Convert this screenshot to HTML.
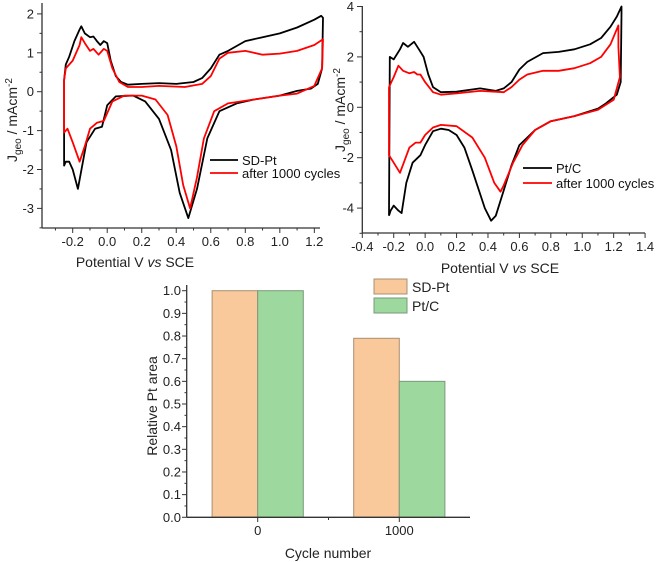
<!DOCTYPE html>
<html><head><meta charset="utf-8"><style>
body{margin:0;background:#fff;}
svg{display:block;font-family:"Liberation Sans",Arial,sans-serif;}
</style></head><body>
<svg id="fig" width="656" height="562" viewBox="0 0 656 562" xmlns="http://www.w3.org/2000/svg"></svg>
<script>
// ---------- Data: chart 1 (SD-Pt) ----------
const sdV = [-0.25,-0.24,-0.22,-0.19,-0.16,-0.15,-0.13,-0.1,-0.08,-0.06,-0.04,-0.02,0.0,0.02,0.05,0.08,0.12,0.2,0.3,0.4,0.5,0.55,0.6,0.65,0.7,0.8,0.9,1.0,1.1,1.2,1.24,1.25,
  1.245,1.22,1.18,1.1,1.0,0.85,0.75,0.65,0.58,0.52,0.47,0.42,0.37,0.3,0.22,0.15,0.05,0.0,-0.03,-0.07,-0.12,-0.17,-0.2,-0.22,-0.24,-0.25,-0.25];
const sdJ = [0.3,0.7,0.9,1.3,1.6,1.68,1.5,1.4,1.42,1.3,1.2,1.3,1.25,0.8,0.4,0.25,0.18,0.2,0.22,0.2,0.25,0.35,0.6,0.95,1.05,1.3,1.4,1.5,1.65,1.85,1.95,1.9,
  0.6,0.2,0.08,0.02,-0.1,-0.2,-0.3,-0.5,-1.2,-2.5,-3.25,-2.6,-1.5,-0.7,-0.25,-0.1,-0.12,-0.35,-0.9,-0.95,-1.3,-2.5,-2.0,-1.8,-1.8,-1.9,0.3];
const sdAgedV = [-0.25,-0.24,-0.2,-0.16,-0.15,-0.13,-0.1,-0.08,-0.05,-0.02,0.0,0.03,0.07,0.12,0.2,0.3,0.45,0.55,0.6,0.65,0.7,0.8,0.85,0.9,1.0,1.1,1.2,1.25,
  1.245,1.2,1.1,1.0,0.85,0.7,0.62,0.56,0.52,0.48,0.44,0.4,0.35,0.28,0.2,0.1,0.03,-0.02,-0.06,-0.1,-0.13,-0.16,-0.2,-0.23,-0.25,-0.25];
const sdAgedJ = [0.3,0.6,0.8,1.2,1.4,1.25,1.05,1.1,0.95,1.1,1.05,0.6,0.25,0.12,0.12,0.15,0.12,0.2,0.4,0.85,1.0,1.05,1.0,0.95,0.98,1.05,1.2,1.35,
  0.6,0.15,-0.05,-0.1,-0.2,-0.3,-0.5,-1.2,-2.2,-3.0,-2.4,-1.4,-0.6,-0.2,-0.1,-0.1,-0.25,-0.75,-0.8,-0.95,-1.4,-1.8,-1.3,-0.95,-1.05,0.3];
const c1YTicks = [-3,-2,-1,0,1,2];
const c1XTicks = [-0.2,0.0,0.2,0.4,0.6,0.8,1.0,1.2];
// ---------- Data: chart 2 (Pt/C) ----------
const ptV = [-0.23,-0.225,-0.2,-0.16,-0.14,-0.11,-0.09,-0.07,-0.04,-0.01,0.02,0.05,0.1,0.2,0.35,0.45,0.5,0.55,0.6,0.65,0.75,0.85,0.95,1.05,1.12,1.18,1.22,1.25,
  1.25,1.245,1.22,1.15,1.1,0.95,0.8,0.7,0.6,0.55,0.5,0.45,0.42,0.38,0.3,0.25,0.2,0.15,0.1,0.05,0.0,-0.03,-0.08,-0.12,-0.15,-0.17,-0.2,-0.22,-0.23,-0.23];
const ptJ = [-4.3,2.0,1.9,2.3,2.55,2.4,2.5,2.6,2.3,2.0,1.3,0.8,0.6,0.62,0.75,0.65,0.75,1.0,1.5,1.8,2.15,2.2,2.3,2.5,2.75,3.2,3.6,4.0,
  3.7,1.0,0.5,0.15,-0.05,-0.35,-0.55,-0.9,-1.5,-2.3,-3.3,-4.3,-4.5,-4.0,-2.5,-1.6,-1.1,-0.9,-0.85,-0.95,-1.5,-1.9,-2.2,-3.0,-4.2,-4.1,-3.9,-4.1,-4.3,-4.3];
const ptAgedV = [-0.23,-0.2,-0.17,-0.14,-0.1,-0.07,-0.05,-0.03,0.0,0.05,0.1,0.2,0.35,0.5,0.55,0.6,0.65,0.75,0.85,0.95,1.05,1.12,1.18,1.22,1.23,
  1.23,1.24,1.2,1.1,0.95,0.8,0.7,0.62,0.56,0.5,0.48,0.44,0.38,0.3,0.2,0.1,0.05,0.0,-0.03,-0.06,-0.1,-0.16,-0.2,-0.23,-0.23];
const ptAgedJ = [0.8,1.2,1.65,1.45,1.35,1.4,1.3,1.3,1.0,0.6,0.5,0.55,0.65,0.6,0.8,1.1,1.3,1.45,1.45,1.55,1.75,2.0,2.5,3.1,3.25,
  2.4,1.2,0.3,-0.1,-0.35,-0.55,-0.9,-1.5,-2.2,-3.1,-3.35,-3.0,-2.0,-1.2,-0.75,-0.7,-0.8,-1.1,-1.4,-1.4,-1.6,-2.6,-2.2,-1.9,0.8];
const c2YTicks = [-4,-2,0,2,4];
const c2XTicks = [-0.4,-0.2,0.0,0.2,0.4,0.6,0.8,1.0,1.2,1.4];
// ---------- Data: bar chart ----------
const barCategories = ["0","1000"];
const barSeriesNames = ["SD-Pt","Pt/C"];
const sdPtArea = [1.0,0.79];
const ptCArea = [1.0,0.6];
const barYTicks = [0.0,0.1,0.2,0.3,0.4,0.5,0.6,0.7,0.8,0.9,1.0];

const NS="http://www.w3.org/2000/svg";
const svg=document.getElementById('fig');
function mk(tag,attrs,parent,text){const e=document.createElementNS(NS,tag);for(const k in attrs)e.setAttribute(k,attrs[k]);if(text!==undefined)e.textContent=text;(parent||svg).appendChild(e);return e;}
function fmt(v,d){let s=v.toFixed(d);if(s.startsWith('-0')&&parseFloat(s)===0)s=s.slice(1);return s;}

// ---------- Chart 1 ----------
const x1=v=>72.7+(v+0.2)*172.6, y1=v=>91.7-38.9*v;
const g1=mk('g',{});


mk('line',{x1:42,y1:3,x2:42,y2:228,stroke:'#333','stroke-width':1.3},g1);
mk('line',{x1:42,y1:228,x2:320,y2:228,stroke:'#333','stroke-width':1.3},g1);
for(let v=-3.5;v<=2.01;v+=0.5){mk('line',{x1:42,x2:Math.abs(v-Math.round(v))<0.01?37:39.5,y1:y1(v),y2:y1(v),stroke:'#333','stroke-width':1},g1);}
c1YTicks.forEach(v=>{const t=mk('text',{x:34,y:y1(v)+4.5,'text-anchor':'end','font-size':13,fill:'#222'},g1,String(v));});
for(let v=-0.3;v<=1.26;v+=0.1){const major=Math.abs(v*5-Math.round(v*5))<0.01;mk('line',{x1:x1(v),x2:x1(v),y1:228,y2:major?233:230.5,stroke:'#333','stroke-width':1},g1);}
c1XTicks.forEach(v=>{const t=mk('text',{x:x1(v),y:246,'text-anchor':'middle','font-size':13,fill:'#222'},g1,fmt(v,1));});
function poly(V,J,fx,fy,color,g,name){const p=V.map((v,i)=>fx(v).toFixed(1)+','+fy(J[i]).toFixed(1)).join(' ');const e=mk('polyline',{points:p,fill:'none',stroke:color,'stroke-width':1.8,'stroke-linejoin':'round'},g);}
poly(sdV,sdJ,x1,y1,'#000',g1,'sd-pt-curve');
poly(sdAgedV,sdAgedJ,x1,y1,'#f00',g1,'sd-pt-aged-curve');
let t;
mk('line',{x1:210,x2:238,y1:160,y2:160,stroke:'#000','stroke-width':1.8},g1);
t=mk('text',{x:242,y:165,'font-size':13,fill:'#111'},g1,'SD-Pt');
mk('line',{x1:210,x2:238,y1:173,y2:173,stroke:'#f00','stroke-width':1.8},g1);
t=mk('text',{x:242,y:178,'font-size':13,fill:'#111'},g1,'after 1000 cycles');
t=mk('text',{x:135,y:267,'text-anchor':'middle','font-size':14,fill:'#222'},g1);
t.innerHTML='Potential V <tspan font-style="italic">vs</tspan> SCE';
t=mk('text',{transform:'translate(17,120) rotate(-90)','text-anchor':'middle','font-size':14,fill:'#222'},g1);
t.innerHTML='J<tspan font-size="10" dy="4">geo</tspan><tspan dy="-4"> / mAcm</tspan><tspan font-size="10" dy="-5">-2</tspan>';

// ---------- Chart 2 ----------
const x2=v=>362.3+(v+0.4)*157.1, y2=v=>107.3-25.2*v;
const g2=mk('g',{});


mk('line',{x1:362.3,y1:6,x2:362.3,y2:233,stroke:'#333','stroke-width':1.3},g2);
mk('line',{x1:362.3,y1:233,x2:645,y2:233,stroke:'#333','stroke-width':1.3},g2);
for(let v=-5;v<=4.01;v+=1){const major=Math.abs(v/2-Math.round(v/2))<0.01;mk('line',{x1:362.3,x2:major?357:359.5,y1:y2(v),y2:y2(v),stroke:'#333','stroke-width':1},g2);}
c2YTicks.forEach(v=>{const e=mk('text',{x:354,y:y2(v)+4.5,'text-anchor':'end','font-size':13,fill:'#222'},g2,String(v));});
for(let v=-0.4;v<=1.41;v+=0.1){const major=Math.abs(v*5-Math.round(v*5))<0.01;mk('line',{x1:x2(v),x2:x2(v),y1:233,y2:major?238:235.5,stroke:'#333','stroke-width':1},g2);}
c2XTicks.forEach(v=>{const e=mk('text',{x:x2(v),y:251,'text-anchor':'middle','font-size':13,fill:'#222'},g2,fmt(v,1));});
poly(ptV,ptJ,x2,y2,'#000',g2,'pt-c-curve');
poly(ptAgedV,ptAgedJ,x2,y2,'#f00',g2,'pt-c-aged-curve');
mk('line',{x1:523,x2:552,y1:168,y2:168,stroke:'#000','stroke-width':1.8},g2);
t=mk('text',{x:556,y:173,'font-size':13,fill:'#111'},g2,'Pt/C');
mk('line',{x1:523,x2:552,y1:183,y2:183,stroke:'#f00','stroke-width':1.8},g2);
t=mk('text',{x:556,y:188,'font-size':13,fill:'#111'},g2,'after 1000 cycles');
t=mk('text',{x:500,y:273,'text-anchor':'middle','font-size':14,fill:'#222'},g2);
t.innerHTML='Potential V <tspan font-style="italic">vs</tspan> SCE';
t=mk('text',{transform:'translate(345,110) rotate(-90)','text-anchor':'middle','font-size':14,fill:'#222'},g2);
t.innerHTML='J<tspan font-size="10" dy="4">geo</tspan><tspan dy="-4"> / mAcm</tspan><tspan font-size="10" dy="-5">-2</tspan>';

// ---------- Bar chart ----------
const yb=v=>517.3-226.6*v, catX=i=>257.7+141.6*i, bw=45.6;
const g3=mk('g',{});


const fills=['#f9c89b','#9dd89e'], strokes=['#a89070','#7a9a7a'];
[sdPtArea,ptCArea].forEach((arr,s)=>{arr.forEach((v,i)=>{const x=catX(i)-bw+s*bw;const r=mk('rect',{x:x,y:yb(v),width:bw,height:yb(0)-yb(v),fill:fills[s],stroke:strokes[s],'stroke-width':1},g3);});});
mk('line',{x1:186.7,y1:285,x2:186.7,y2:517.3,stroke:'#333','stroke-width':1.3},g3);
mk('line',{x1:186.7,y1:517.3,x2:470,y2:517.3,stroke:'#333','stroke-width':1.3},g3);
for(let v=0;v<=1.001;v+=0.05){const major=Math.abs(v*10-Math.round(v*10))<0.01;mk('line',{x1:186.7,x2:major?182:184.5,y1:yb(v),y2:yb(v),stroke:'#333','stroke-width':1},g3);}
barYTicks.forEach(v=>{const e=mk('text',{x:181,y:yb(v)+4.5,'text-anchor':'end','font-size':13,fill:'#222'},g3,v.toFixed(1));});
barCategories.forEach((c,i)=>{mk('line',{x1:catX(i),x2:catX(i),y1:517.3,y2:522,stroke:'#333','stroke-width':1},g3);const e=mk('text',{x:catX(i),y:535,'text-anchor':'middle','font-size':13,fill:'#222'},g3,c);});
mk('line',{x1:328.5,x2:328.5,y1:517.3,y2:520,stroke:'#333','stroke-width':1},g3);
barSeriesNames.forEach((n,s)=>{const yy=279+s*19;mk('rect',{x:374,y:yy,width:33,height:15,fill:fills[s],stroke:strokes[s],'stroke-width':1},g3);const e=mk('text',{x:412,y:yy+13,'font-size':14,fill:'#222'},g3,n);});
t=mk('text',{x:328,y:558,'text-anchor':'middle','font-size':14,fill:'#222'},g3,'Cycle number');
t=mk('text',{transform:'translate(157,406) rotate(-90)','text-anchor':'middle','font-size':14,fill:'#222'},g3,'Relative Pt area');
</script>
</body></html>
